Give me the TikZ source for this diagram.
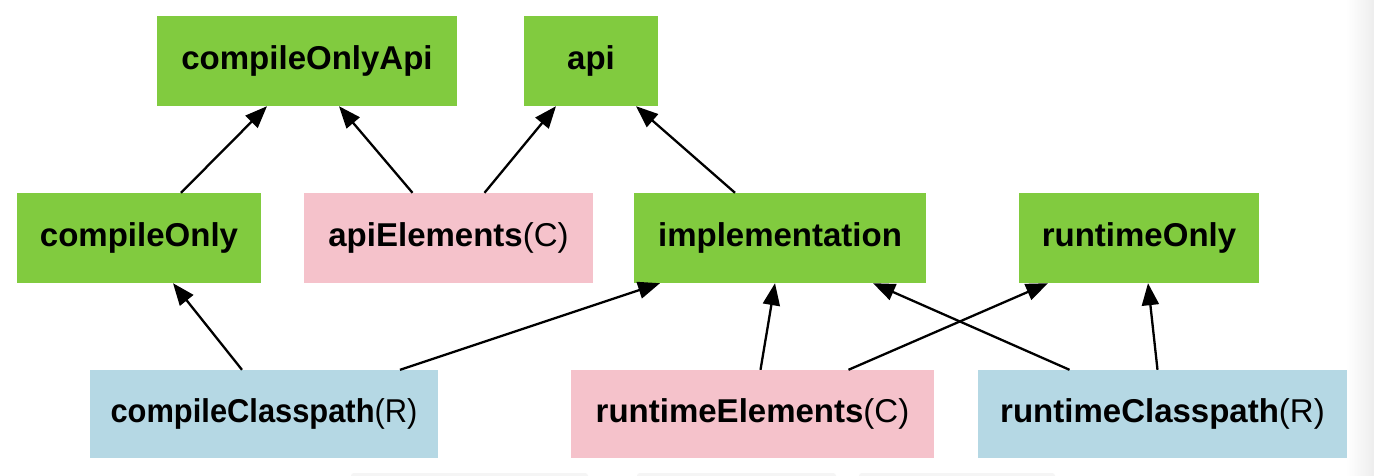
\documentclass[tikz,border=0pt]{standalone}
\usepackage{fontspec}
\setmainfont{Liberation Sans}
\usetikzlibrary{arrows.meta}
\definecolor{cfggreen}{RGB}{129,203,63}
\definecolor{cfgpink}{RGB}{245,194,203}
\definecolor{cfgblue}{RGB}{181,216,228}
\tikzset{
  cfg/.style={rectangle, inner sep=0pt, font=\fontsize{33}{40}\selectfont},
  decl/.style={cfg, fill=cfggreen},
  cons/.style={cfg, fill=cfgpink},
  reso/.style={cfg, fill=cfgblue},
  dep/.style={line width=2.3pt, -{Triangle[length=22pt,width=17pt]}},
}
\begin{document}
\begin{tikzpicture}[x=1pt,y=-1pt]
\useasboundingbox (0,0) rectangle (1374,476);
\fill[white] (0,0) rectangle (1374,476);
\shade[left color=white, right color=black!7] (1346,0) rectangle (1374,476);
% faint boxes at the bottom edge
\fill[black!4, rounded corners=3pt] (351,473) rectangle (588,480);
\fill[black!4, rounded corners=3pt] (637,473) rectangle (836,480);
\fill[black!4, rounded corners=3pt] (859,473) rectangle (1055,480);

\node[decl, minimum width=300pt, minimum height=90pt] (coa) at (307,61) {\textbf{compileOnlyApi}};
\node[decl, minimum width=134pt, minimum height=90pt] (api) at (591,61) {\textbf{api}};
\node[decl, minimum width=244pt, minimum height=90pt] (co) at (139,238) {\textbf{compileOnly}};
\node[cons, minimum width=289pt, minimum height=90pt] (ae) at (448.5,238) {\textbf{apiElements}(C)};
\node[decl, minimum width=292pt, minimum height=90pt] (impl) at (780,238) {\textbf{implementation}};
\node[decl, minimum width=240pt, minimum height=90pt] (ro) at (1139,238) {\textbf{runtimeOnly}};
\node[reso, minimum width=348pt, minimum height=88pt] (cc) at (264,414) {\scalebox{0.935}[1]{\textbf{compileClasspath}(R)}};
\node[cons, minimum width=363pt, minimum height=88pt] (re) at (752.5,414) {\textbf{runtimeElements}(C)};
\node[reso, minimum width=369pt, minimum height=88pt] (rc) at (1162.5,414) {\textbf{runtimeClasspath}(R)};

\draw[dep] ([xshift=42pt]co.north) -- ([xshift=-40pt]coa.south);
\draw[dep] ([xshift=-36pt]ae.north) -- ([xshift=32pt]coa.south);
\draw[dep] ([xshift=36pt]ae.north) -- ([xshift=-35pt]api.south);
\draw[dep] ([xshift=-45pt]impl.north) -- ([xshift=45pt]api.south);
\draw[dep] ([xshift=-22pt]cc.north) -- ([xshift=34pt]co.south);
\draw[dep] ([xshift=136pt]cc.north) -- ([xshift=-120pt]impl.south);
\draw[dep] ([xshift=8pt]re.north) -- ([xshift=-5pt]impl.south);
\draw[dep] ([xshift=96pt]re.north) -- ([xshift=-91pt]ro.south);
\draw[dep] ([xshift=-93pt]rc.north) -- ([xshift=93pt]impl.south);
\draw[dep] ([xshift=-5pt]rc.north) -- ([xshift=9pt]ro.south);
\end{tikzpicture}
\end{document}
